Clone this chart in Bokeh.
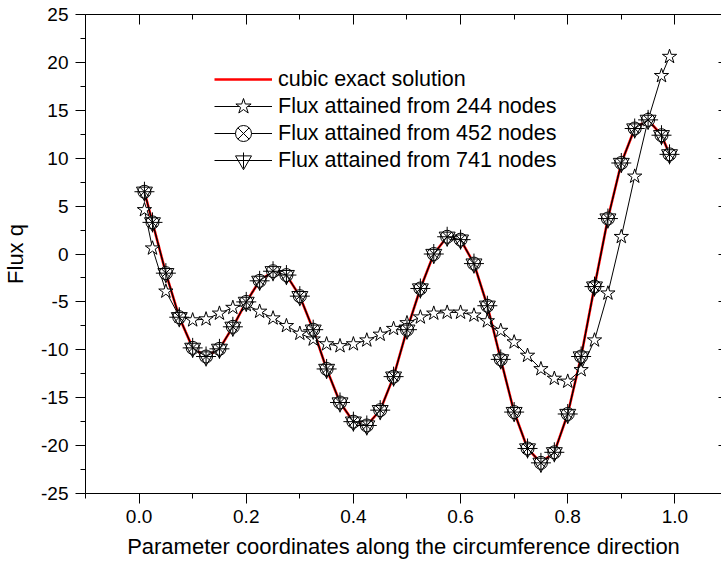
from bokeh.plotting import figure
from bokeh.models import (Range1d, LinearAxis, FixedTicker, PrintfTickFormatter,
                          Legend, LegendItem)
from bokeh.embed import file_html
from bokeh.resources import INLINE

# ---------------- data ----------------
x_param = [0.01, 0.025, 0.05, 0.075, 0.10, 0.125, 0.15, 0.175, 0.20, 0.225,
           0.25, 0.275, 0.30, 0.325, 0.35, 0.375, 0.40, 0.425, 0.45, 0.475,
           0.50, 0.525, 0.55, 0.575, 0.60, 0.625, 0.65, 0.675, 0.70, 0.725,
           0.75, 0.775, 0.80, 0.825, 0.85, 0.875, 0.90, 0.925, 0.95, 0.975,
           0.99]

q_exact = [6.5, 3.3, -2.0, -6.6, -9.8, -10.7, -9.9, -7.6, -5.0, -2.8,
           -1.8, -2.2, -4.4, -7.9, -12.0, -15.5, -17.5, -17.9, -16.3, -12.8,
           -7.9, -3.6, 0.0, 1.8, 1.5, -1.0, -5.4, -11.0, -16.5, -20.3,
           -21.8, -20.7, -16.7, -10.7, -3.4, 3.7, 9.5, 13.1, 14.0, 12.4,
           10.4]

q_244 = [4.6, 0.6, -3.9, -6.5, -6.9, -6.8, -6.2, -5.6, -5.3, -6.0,
         -6.7, -7.5, -8.3, -8.9, -9.4, -9.6, -9.4, -9.0, -8.4, -7.8,
         -7.2, -6.6, -6.2, -6.1, -6.1, -6.4, -7.0, -8.0, -9.2, -10.6,
         -12.0, -13.0, -13.3, -12.1, -9.0, -4.1, 1.8, 8.1, 14.0, 18.6,
         20.6]

q_452 = [6.5, 3.3, -2.0, -6.6, -9.8, -10.7, -9.9, -7.6, -5.0, -2.8,
         -1.8, -2.2, -4.4, -7.9, -12.0, -15.5, -17.5, -17.9, -16.3, -12.8,
         -7.9, -3.6, 0.0, 1.8, 1.5, -1.0, -5.4, -11.0, -16.5, -20.3,
         -21.8, -20.7, -16.7, -10.7, -3.4, 3.7, 9.5, 13.1, 14.0, 12.4,
         10.4]

q_741 = [6.5, 3.3, -2.0, -6.6, -9.8, -10.7, -9.9, -7.6, -5.0, -2.8,
         -1.8, -2.2, -4.4, -7.9, -12.0, -15.5, -17.5, -17.9, -16.3, -12.8,
         -7.9, -3.6, 0.0, 1.8, 1.5, -1.0, -5.4, -11.0, -16.5, -20.3,
         -21.8, -20.7, -16.7, -10.7, -3.4, 3.7, 9.5, 13.1, 14.0, 12.4,
         10.4]

x_major_ticks = [0.0, 0.2, 0.4, 0.6, 0.8, 1.0]
x_minor_ticks = [-0.1, 0.1, 0.3, 0.5, 0.7, 0.9, 1.1]
y_major_ticks = [-25, -20, -15, -10, -5, 0, 5, 10, 15, 20, 25]
y_minor_ticks = [-22.5, -17.5, -12.5, -7.5, -2.5, 2.5, 7.5, 12.5, 17.5, 22.5]

x_title = "Parameter coordinates along the circumference direction"
y_title = "Flux q"
series_labels = ["cubic exact solution", "Flux attained from 244 nodes",
                 "Flux attained from 452 nodes", "Flux attained from 741 nodes"]

FONT = "Liberation Sans"

# ---------------- figure ----------------
p = figure(width=721, height=565, output_backend="svg", toolbar_location=None,
           x_range=Range1d(-0.1, 1.087), y_range=Range1d(-25, 25),
           min_border_left=83, min_border_right=0, min_border_top=14,
           min_border_bottom=72)
p.outline_line_color = None
p.grid.visible = False
p.background_fill_color = "white"
p.border_fill_color = "white"

xt = FixedTicker(ticks=x_major_ticks, minor_ticks=x_minor_ticks)
yt = FixedTicker(ticks=y_major_ticks, minor_ticks=y_minor_ticks)


def style(ax, ticker, fmt):
    ax.ticker = ticker
    ax.formatter = PrintfTickFormatter(format=fmt)
    ax.axis_line_color = "black"
    ax.axis_line_width = 1
    ax.major_tick_line_color = "black"
    ax.minor_tick_line_color = "black"
    ax.major_tick_out = 10
    ax.major_tick_in = 0
    ax.minor_tick_out = 5
    ax.minor_tick_in = 0
    ax.major_label_text_font = FONT
    ax.major_label_text_font_size = "19px"
    ax.major_label_text_color = "black"
    ax.axis_label_text_font = FONT
    ax.axis_label_text_font_size = "22px"
    ax.axis_label_text_font_style = "normal"
    ax.axis_label_text_color = "black"


style(p.xaxis[0], xt, "%.1f")
p.xaxis[0].axis_label = x_title
p.xaxis[0].major_label_standoff = 6
p.xaxis[0].axis_label_standoff = 8

style(p.yaxis[0], yt, "%d")
p.yaxis[0].axis_label = y_title
p.yaxis[0].major_label_standoff = 7
p.yaxis[0].axis_label_standoff = 10

top = LinearAxis(ticker=xt, major_label_text_font_size="0px",
                 major_label_text_color=None,
                 major_label_standoff=0, major_tick_out=0, major_tick_in=10,
                 minor_tick_out=0, minor_tick_in=5, axis_line_color="black",
                 major_tick_line_color="black", minor_tick_line_color="black")
p.add_layout(top, "above")

right = LinearAxis(ticker=yt, major_label_text_font_size="0px",
                   major_label_text_color=None,
                   major_label_standoff=0, major_tick_out=0, major_tick_in=3,
                   minor_tick_out=0, minor_tick_in=0, axis_line_color=None,
                   major_tick_line_color="black")
p.add_layout(right, "right")

# ---------------- glyphs ----------------
r_exact = p.line(x_param, q_exact, line_color="#ff0000", line_width=2.6)

l244 = p.line(x_param, q_244, line_color="black", line_width=1)
m244 = p.scatter(x_param, q_244, marker="star", size=15, line_color="black",
                 fill_color="white", line_width=1)

l452 = p.line(x_param, q_452, line_color="black", line_width=1)
m452 = p.scatter(x_param, q_452, marker="circle_x", size=13, line_color="black",
                 fill_color="white", line_width=1)

l741 = p.line(x_param, q_741, line_color="black", line_width=1)
m741 = p.scatter(x_param, q_741, marker="inverted_triangle", size=16,
                 line_color="black", fill_color=None, line_width=1)
c741 = p.scatter(x_param, q_741, marker="cross", size=20, line_color="black",
                 line_width=1)

# one legend per row so that rows can sit closer than the glyph box height
legend_rows = [
    ([r_exact], 394),
    ([l244, m244], 367),
    ([l452, m452], 340),
    ([l741, m741, c741], 313),
]
for (rends, ypos), lab in zip(legend_rows, series_labels):
    lg = Legend(items=[LegendItem(label=lab, renderers=rends)],
                location=(129, ypos), border_line_color=None,
                background_fill_alpha=0, padding=0, margin=0, spacing=0,
                glyph_width=58, glyph_height=40, label_height=20,
                label_standoff=6, label_text_font=FONT,
                label_text_font_size="21.5px", label_text_color="black")
    p.add_layout(lg)

open("out.html", "w").write(file_html(p, INLINE))
